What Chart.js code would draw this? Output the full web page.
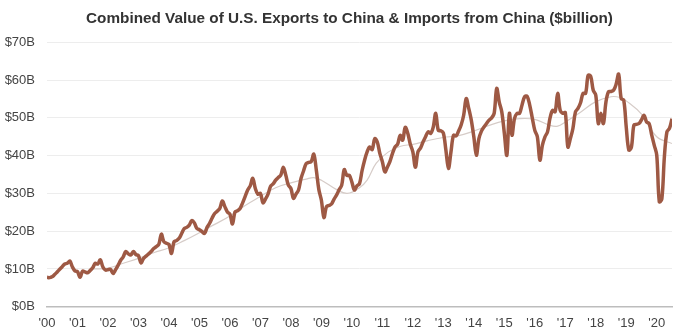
<!DOCTYPE html>
<html lang="en">
<head>
  <meta charset="UTF-8">
  <title>Combined Value of U.S. Exports to China & Imports from China</title>
  <script src="https://cdn.jsdelivr.net/npm/chart.js"></script>
  <style>
    body {
      margin: 0;
      background: #fff;
      font-family: "Liberation Sans", Arial, sans-serif;
    }
    .chart-box {
      width: 699px;
      height: 336px;
    }
  </style>
</head>
<body>
  <div class="chart-box">
    <canvas id="tradeChart"></canvas>
  </div>

  <script>
    // monthly combined trade value, $billion, Jan 2000 .. Jul 2020
    const startYear = 2000;
    const tradeValues = [
      7.8, 7.7, 7.9, 8.5, 9.2, 9.9, 10.6, 11.3, 11.5, 12.1, 10.5, 9.5,
      9.3, 7.8, 9.4, 9.2, 9.0, 9.6, 10.3, 11.5, 11.3, 12.4, 10.5, 9.7,
      9.8, 9.9, 8.8, 9.8, 11.0, 12.3, 13.2, 14.6, 14.0, 13.7, 14.6, 13.8,
      13.5, 11.6, 12.8, 13.4, 14.0, 14.6, 15.4, 15.9, 16.5, 19.2, 17.2, 16.8,
      16.5, 14.1, 17.2, 17.5, 18.1, 19.4, 20.7, 21.0, 21.6, 22.8, 22.2, 20.7,
      20.4, 19.9, 19.4, 21.0, 22.1, 23.5, 24.7, 25.3, 26.0, 28.0, 26.5, 25.1,
      24.5, 21.9, 25.1, 25.4, 26.0, 27.5, 29.2, 30.9, 32.0, 34.0, 31.3, 29.8,
      30.0, 27.5, 28.5, 29.8, 31.9, 32.5, 33.5, 34.2, 34.8, 36.9, 34.8, 32.2,
      31.3, 28.7, 29.8, 30.9, 34.0, 36.0, 37.9, 38.2, 38.4, 40.4, 36.2, 31.0,
      28.2, 23.6, 26.5, 26.8, 27.2, 28.5, 29.6, 31.0, 32.2, 36.3, 34.8, 34.8,
      33.0, 30.9, 32.0, 32.6, 36.0, 38.8, 41.0, 42.3, 41.6, 44.5, 43.6, 40.6,
      38.4, 35.7, 37.0, 38.5, 40.6, 42.3, 43.0, 45.4, 44.1, 47.5, 45.9, 43.0,
      41.0, 36.9, 41.0, 42.0, 43.6, 45.0, 46.3, 45.9, 47.5, 51.2, 46.7, 46.6,
      46.0, 41.5, 36.6, 41.0, 45.4, 45.2, 46.5, 48.1, 50.7, 55.1, 52.5, 49.4,
      45.0, 40.1, 44.5, 46.5, 47.6, 48.5, 49.4, 50.0, 51.2, 57.8, 54.2, 51.6,
      46.0, 40.1, 51.2, 45.4, 49.8, 51.2, 51.2, 53.5, 55.6, 55.7, 53.4, 50.0,
      46.7, 45.0, 38.8, 42.8, 45.0, 46.3, 50.0, 52.0, 51.6, 56.5, 52.0, 51.2,
      51.4, 42.3, 44.5, 47.2, 51.6, 52.5, 54.0, 56.5, 56.5, 61.3, 61.0, 57.3,
      56.0, 48.5, 51.2, 48.5, 54.2, 56.9, 57.0, 57.3, 58.9, 61.6, 55.1, 54.7,
      47.5, 41.5, 42.2, 48.1, 48.3, 48.5, 49.5, 50.7, 48.9, 48.5, 45.5, 42.8,
      40.1, 27.8, 28.5, 39.7, 46.3, 47.2, 49.8
    ];

    // thin grey trend line (read at the points where it could be seen)
    const trendYears = [
      2001.5, 2002.0, 2002.5, 2003.0, 2003.5, 2004.0, 2004.5, 2005.0, 2005.5,
      2006.0, 2006.5, 2007.0, 2007.5, 2008.0, 2008.5, 2008.75, 2009.0, 2009.5,
      2009.85, 2010.25, 2010.5, 2010.8, 2011.2, 2011.6, 2012.0, 2012.5, 2013.0,
      2013.5, 2014.0, 2014.5, 2015.0, 2015.5, 2016.0, 2016.5, 2016.75, 2017.0,
      2017.5, 2018.0, 2018.5, 2018.8, 2019.0, 2019.5, 2020.0, 2020.5
    ];
    const trendValues = [
      10.0, 10.2, 11.5, 12.8, 14.3, 15.6, 17.5, 19.6, 21.8,
      24.0, 26.8, 29.2, 31.5, 32.8, 33.8, 34.2, 33.5, 31.0,
      30.0, 31.5, 33.5, 38.0, 41.0, 42.5, 43.0, 44.0, 44.8,
      45.3, 46.5, 48.0, 49.2, 49.8, 49.6, 48.0, 47.8, 48.9,
      51.5, 54.3, 55.6, 55.4, 54.5, 51.0, 45.0, 43.2
    ];

    const xTickLabels = ["'00", "'01", "'02", "'03", "'04", "'05", "'06", "'07", "'08", "'09", "'10",
                         "'11", "'12", "'13", "'14", "'15", "'16", "'17", "'18", "'19", "'20"];
    const yTickLabels = ['$0B', '$10B', '$20B', '$30B', '$40B', '$50B', '$60B', '$70B'];

    const tradePoints = tradeValues.map((v, i) => ({ x: startYear + i / 12, y: v }));
    const trendPoints = trendYears.map((yr, i) => ({ x: yr, y: trendValues[i] }));

    Chart.defaults.font.family = '"Liberation Sans", Arial, sans-serif';
    Chart.defaults.color = '#444';

    new Chart(document.getElementById('tradeChart'), {
      type: 'line',
      data: {
        datasets: [
          {
            label: 'Combined value',
            data: tradePoints,
            borderColor: '#9e5944',
            borderWidth: 3.5,
            pointRadius: 0,
            tension: 0.35,
            order: 1
          },
          {
            label: 'Trend',
            data: trendPoints,
            borderColor: '#d6ccc8',
            borderWidth: 1.2,
            pointRadius: 0,
            tension: 0.4,
            order: 2
          }
        ]
      },
      options: {
        responsive: true,
        maintainAspectRatio: false,
        animation: false,
        layout: { padding: 0 },
        plugins: {
          legend: { display: false },
          tooltip: { enabled: false },
          title: {
            display: true,
            text: 'Combined Value of U.S. Exports to China & Imports from China ($billion)',
            color: '#333',
            font: { size: 15.3, weight: 'bold' },
            padding: { top: 10, bottom: 14 }
          }
        },
        scales: {
          x: {
            type: 'linear',
            min: 2000,
            max: 2020.5,
            grid: { display: false, drawTicks: false },
            border: { color: '#bdbdbd', width: 1.5 },
            afterBuildTicks: s => {
              s.ticks = xTickLabels.map((_, i) => ({ value: startYear + i }));
            },
            ticks: {
              autoSkip: false,
              maxRotation: 0,
              padding: 9,
              font: { size: 13 },
              callback: v => xTickLabels[Math.round(v - startYear)]
            },
            afterFit: s => { s.height = 29.3; }
          },
          y: {
            min: 0,
            max: 70,
            grid: { color: '#ededed', drawTicks: false },
            border: { display: false },
            ticks: {
              stepSize: 10,
              padding: 12,
              font: { size: 13 },
              callback: v => yTickLabels[v / 10]
            },
            afterFit: s => { s.width = 47; }
          },
          // empty right-hand axis only reserves the margin right of the plot
          yRight: {
            position: 'right',
            min: 0,
            max: 70,
            grid: { display: false, drawTicks: false },
            border: { display: false },
            ticks: { display: false },
            afterFit: s => { s.width = 27; }
          }
        }
      }
    });
  </script>
</body>
</html>
